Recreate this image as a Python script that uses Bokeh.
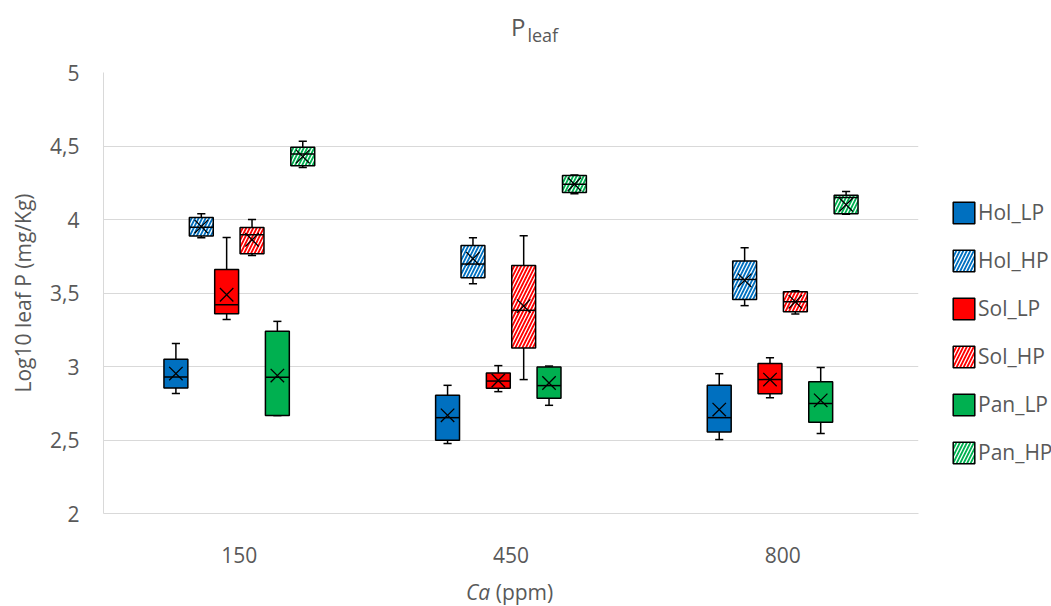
from bokeh.plotting import figure
from bokeh.models import (ColumnDataSource, FactorRange, Range1d, FixedTicker,
                          CustomJSTickFormatter, Legend, LegendItem, Div)
from bokeh.layouts import column
from bokeh.transform import dodge
from bokeh.embed import file_html
from bokeh.resources import INLINE

# ---------------- data ----------------
categories = ["150", "450", "800"]
series = ["Hol_LP", "Hol_HP", "Sol_LP", "Sol_HP", "Pan_LP", "Pan_HP"]

whisker_low = [
    [2.816, 2.476, 2.503],
    [3.876, 3.563, 3.414],
    [3.319, 2.829, 2.788],
    [3.755, 2.911, 3.357],
    [2.666, 2.736, 2.544],
    [4.353, 4.175, 4.035],
]
q1 = [
    [2.854, 2.498, 2.555],
    [3.887, 3.604, 3.455],
    [3.359, 2.852, 2.815],
    [3.767, 3.126, 3.373],
    [2.666, 2.784, 2.620],
    [4.365, 4.183, 4.039],
]
median = [
    [2.929, 2.652, 2.652],
    [3.948, 3.697, 3.592],
    [3.420, 2.901, 2.911],
    [3.896, 3.382, 3.440],
    [2.927, 2.870, 2.748],
    [4.446, 4.240, 4.150],
]
q3 = [
    [3.049, 2.804, 2.872],
    [4.014, 3.823, 3.717],
    [3.660, 2.956, 3.020],
    [3.946, 3.687, 3.509],
    [3.239, 2.996, 2.897],
    [4.491, 4.299, 4.165],
]
whisker_high = [
    [3.156, 2.872, 2.951],
    [4.039, 3.876, 3.807],
    [3.878, 3.006, 3.060],
    [4.000, 3.889, 3.515],
    [3.307, 3.003, 2.994],
    [4.532, 4.302, 4.190],
]
mean = [
    [2.952, 2.668, 2.707],
    [3.952, 3.733, 3.586],
    [3.488, 2.905, 2.911],
    [3.862, 3.411, 3.440],
    [2.938, 2.888, 2.770],
    [4.428, 4.240, 4.100],
]
y_ticks = [2, 2.5, 3, 3.5, 4, 4.5, 5]

# ---------------- styles ----------------
colors = ["#0070C0", "#0070C0", "#FF0000", "#FF0000", "#00B050", "#00B050"]
hatched = [False, True, False, True, False, True]
offsets = [-0.2335, -0.14, -0.0467, 0.0467, 0.14, 0.2335]
box_w = 0.088
cap_w = 0.03
FONT = "Open Sans"
TXT = "#595959"
GRID = "#D9D9D9"

p = figure(x_range=FactorRange(*categories, range_padding=0),
           y_range=Range1d(2, 5),
           frame_width=815, frame_height=441,
           min_border_left=103, min_border_right=133,
           min_border_top=19, min_border_bottom=63,
           output_backend="svg", toolbar_location=None,
           background_fill_color="white", border_fill_color="white")
p.outline_line_color = None

items = []
for i, name in enumerate(series):
    src = ColumnDataSource(dict(cat=categories, lo=whisker_low[i], q1=q1[i],
                                med=median[i], q3=q3[i], hi=whisker_high[i],
                                mean=mean[i]))
    off = offsets[i]
    xc = dodge("cat", off, range=p.x_range)
    xl = dodge("cat", off - box_w / 2, range=p.x_range)
    xr = dodge("cat", off + box_w / 2, range=p.x_range)
    cl = dodge("cat", off - cap_w / 2, range=p.x_range)
    cr = dodge("cat", off + cap_w / 2, range=p.x_range)
    wk = dict(source=src, line_color="black", line_width=1.5)
    p.segment(x0=xc, y0="q3", x1=xc, y1="hi", **wk)
    p.segment(x0=xc, y0="lo", x1=xc, y1="q1", **wk)
    p.segment(x0=cl, y0="hi", x1=cr, y1="hi", **wk)
    p.segment(x0=cl, y0="lo", x1=cr, y1="lo", **wk)
    kw = dict(fill_color=colors[i], line_color="black", line_width=1.5)
    if hatched[i]:
        kw.update(hatch_pattern="/", hatch_color="white", hatch_weight=1.3,
                  hatch_scale=7)
    r = p.vbar(x=xc, width=box_w, bottom="q1", top="q3", source=src, **kw)
    p.segment(x0=xl, y0="med", x1=xr, y1="med", **wk)
    p.scatter(x=xc, y="mean", marker="x", size=19, line_color="black",
              line_width=1.3, source=src)
    items.append(LegendItem(label=name, renderers=[r]))

legend = Legend(items=items, location=(32, 47), orientation="vertical",
                glyph_width=27, glyph_height=27, spacing=20, label_standoff=1,
                padding=0, margin=0, border_line_color=None,
                background_fill_alpha=0, label_text_font=FONT,
                label_text_font_size="21px", label_text_color=TXT,
                label_height=27)
p.add_layout(legend, "right")

# axes
p.yaxis.ticker = FixedTicker(ticks=y_ticks)
p.ygrid.ticker = FixedTicker(ticks=y_ticks)
p.yaxis.formatter = CustomJSTickFormatter(code="return tick.toString().replace('.', ',')")
p.yaxis.axis_label = "Log10 leaf P (mg/Kg)"
p.yaxis.axis_label_text_font = FONT
p.yaxis.axis_label_text_font_style = "normal"
p.yaxis.axis_label_text_font_size = "21px"
p.yaxis.axis_label_text_color = TXT
p.yaxis.axis_label_standoff = 10
p.yaxis.major_label_standoff = 18
for ax in (p.xaxis, p.yaxis):
    ax.major_label_text_font = FONT
    ax.major_label_text_font_size = "21px"
    ax.major_label_text_color = TXT
    ax.major_tick_line_color = None
    ax.minor_tick_line_color = None
    ax.axis_line_color = GRID
p.xaxis.major_label_standoff = 27
p.ygrid.grid_line_color = GRID
p.xgrid.grid_line_color = None

# title P_leaf and x axis label "Ca (ppm)" as real HTML text
title_div = Div(
    text=("<span style=\"font-family:'Open Sans';font-size:24px;line-height:28px;"
          "color:#595959;white-space:nowrap\">P<span style=\"font-size:18px;"
          "position:relative;top:6px;margin-left:2px\">leaf</span></span>"),
    width=90, height=40, margin=(13, 0, 0, 511))
xlabel_div = Div(
    text=("<span style=\"font-family:'Open Sans';font-size:21px;line-height:26px;"
          "color:#595959;white-space:nowrap;position:relative;top:3px\">"
          "<i>Ca</i> (ppm)</span>"),
    width=130, height=30, margin=(0, 0, 0, 466))

root = column(title_div, p, xlabel_div, spacing=0)
open("out.html", "w").write(file_html(root, INLINE))
